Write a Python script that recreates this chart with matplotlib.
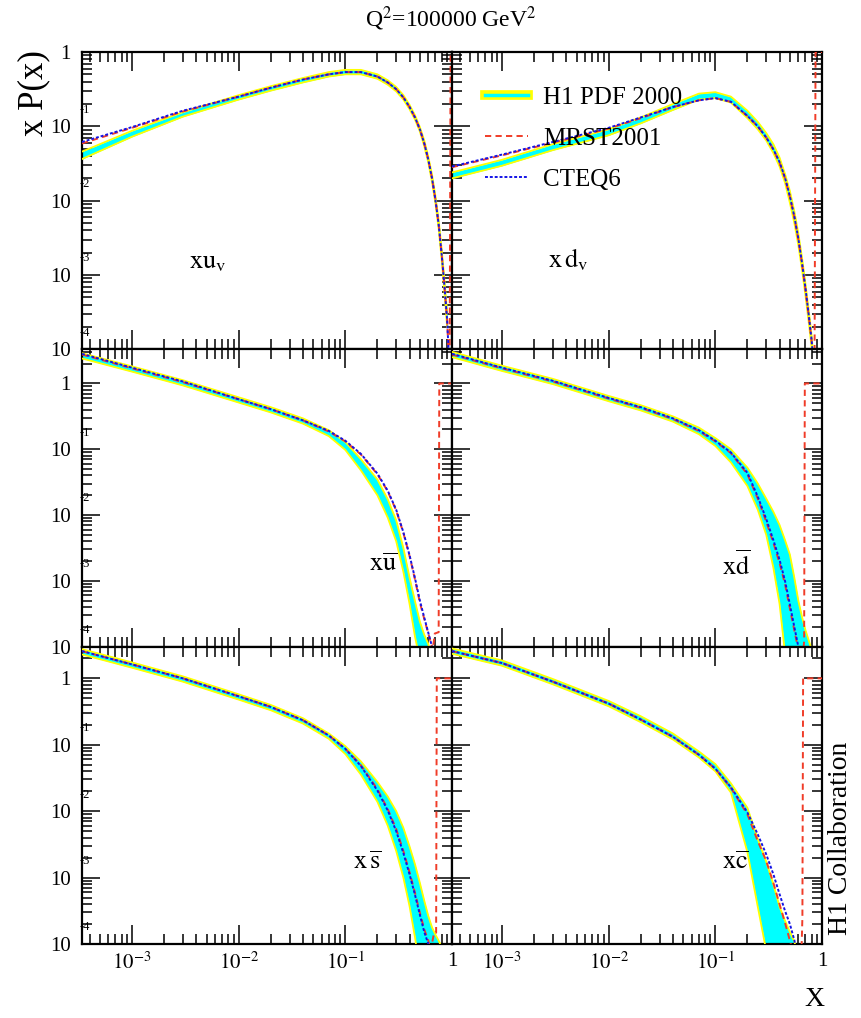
import numpy as np
import matplotlib
matplotlib.use('Agg')
import matplotlib.pyplot as plt
from matplotlib.lines import Line2D
from matplotlib.ticker import FixedLocator, LogLocator, NullFormatter
import matplotlib.transforms as mtransforms

plt.rcParams['font.family'] = ['Liberation Serif', 'DejaVu Serif']
plt.rcParams['mathtext.fontset'] = 'stix'

# сетка по x; значения ниже - показатели степени (log10 xP(x))
x_grid = [3.4e-4, 1e-3, 3e-3, 1e-2, 2e-2, 4e-2, 0.07, 0.1, 0.14, 0.2, 0.25, 0.3,
          0.35, 0.4, 0.45, 0.5, 0.55, 0.6, 0.65, 0.7, 0.75, 0.8, 0.85, 0.9]

# --- xu_v ---
uv_lo = [-1.44, -1.14, -0.87, -0.64, -0.52, -0.41, -0.33, -0.30, -0.30, -0.36, -0.44, -0.53,
         -0.64, -0.77, -0.91, -1.07, -1.27, -1.49, -1.75, -2.04, -2.38, -2.79, -3.23, -3.7]
uv_hi = [-1.34, -1.06, -0.81, -0.58, -0.46, -0.35, -0.27, -0.24, -0.24, -0.30, -0.38, -0.47,
         -0.58, -0.71, -0.85, -1.01, -1.19, -1.41, -1.65, -1.94, -2.26, -2.65, -3.07, -3.5]
uv_mrst_x = x_grid + [0.95, 0.97, 1.0]
uv_mrst = [-1.23, -1.02, -0.80, -0.60, -0.48, -0.37, -0.30, -0.27, -0.27, -0.33, -0.41, -0.50,
           -0.61, -0.74, -0.88, -1.04, -1.23, -1.45, -1.70, -1.99, -2.32, -2.72, -3.15, -3.6,
           -4.4, 0, 0]
uv_cteq_x = x_grid + [0.95]
uv_cteq = [-1.21, -1.01, -0.79, -0.60, -0.48, -0.37, -0.30, -0.27, -0.27, -0.33, -0.41, -0.50,
           -0.61, -0.74, -0.88, -1.04, -1.23, -1.45, -1.70, -1.99, -2.32, -2.72, -3.15, -3.6, -4.3]

# --- xd_v ---
dv_lo = [-1.70, -1.53, -1.32, -1.12, -0.96, -0.78, -0.64, -0.62, -0.68, -0.89, -1.04, -1.19,
         -1.36, -1.54, -1.76, -2.03, -2.30, -2.60, -2.93, -3.28, -3.63, -3.98, -4.5, -5.1]
dv_hi = [-1.62, -1.45, -1.24, -1.04, -0.88, -0.70, -0.56, -0.54, -0.60, -0.79, -0.94, -1.09,
         -1.24, -1.42, -1.64, -1.87, -2.14, -2.44, -2.77, -3.12, -3.47, -3.82, -4.3, -4.9]
dv_mrst_x = x_grid[:22] + [0.85, 0.87, 1.0]
dv_mrst = [-1.55, -1.39, -1.22, -1.03, -0.89, -0.74, -0.65, -0.62, -0.67, -0.86, -1.0, -1.15,
           -1.31, -1.49, -1.70, -1.95, -2.22, -2.52, -2.85, -3.2, -3.55, -3.9, -4.5, 0, 0]
dv_cteq_x = x_grid
dv_cteq = [-1.54, -1.38, -1.21, -1.02, -0.88, -0.74, -0.65, -0.62, -0.67, -0.86, -1.0, -1.15,
           -1.31, -1.48, -1.69, -1.94, -2.21, -2.51, -2.84, -3.18, -3.53, -3.88, -4.4, -5.0]

# --- x ubar ---
ub_lo = [0.38, 0.18, -0.03, -0.29, -0.44, -0.61, -0.80, -1.01, -1.32, -1.70, -2.04, -2.40,
         -2.86, -3.35, -3.85, -4.20, -4.6, -5.0, -5.5, -6.0]
ub_hi = [0.46, 0.26, 0.05, -0.21, -0.36, -0.53, -0.71, -0.89, -1.15, -1.46, -1.76, -2.08,
         -2.50, -2.95, -3.31, -3.62, -3.82, -3.96, -4.3, -4.8]
ub_mrst_x = x_grid[:19] + [0.66, 0.69, 0.75, 0.76, 1.0]
ub_mrst = [0.44, 0.23, 0.02, -0.24, -0.39, -0.56, -0.73, -0.88, -1.08, -1.38, -1.64, -1.93,
           -2.27, -2.62, -2.98, -3.33, -3.58, -3.80, -4.0, -4.05, -3.8, -3.78, 0, 0]
ub_cteq_x = x_grid[:20]
ub_cteq = [0.45, 0.24, 0.03, -0.24, -0.39, -0.56, -0.72, -0.87, -1.07, -1.37, -1.63, -1.92,
           -2.26, -2.61, -2.96, -3.30, -3.56, -3.79, -4.0, -4.25]

# --- x dbar ---
db_lo = [0.40, 0.19, -0.01, -0.27, -0.41, -0.58, -0.77, -0.95, -1.20, -1.56, -1.92, -2.30,
         -2.80, -3.35, -4.1, -5.0, -6.0, -7, -7, -7, -7, -7]
db_hi = [0.48, 0.27, 0.07, -0.19, -0.33, -0.50, -0.67, -0.83, -1.0, -1.28, -1.52, -1.75,
         -1.95, -2.15, -2.38, -2.6, -2.95, -3.3, -3.55, -3.75, -3.9, -4.05]
db_mrst_x = x_grid[:18] + [0.65, 0.68, 0.69, 1.0]
db_mrst = [0.44, 0.23, 0.03, -0.23, -0.37, -0.54, -0.72, -0.88, -1.06, -1.38, -1.75, -2.10,
           -2.42, -2.73, -3.05, -3.42, -3.75, -4.05, -4.4, -3.9, 0, 0]
db_cteq_x = x_grid[:19]
db_cteq = [0.45, 0.24, 0.04, -0.22, -0.36, -0.53, -0.71, -0.87, -1.05, -1.36, -1.72, -2.06,
           -2.38, -2.68, -3.0, -3.36, -3.70, -4.0, -4.35]

# --- x sbar ---
sb_lo = [0.36, 0.16, -0.05, -0.32, -0.48, -0.68, -0.91, -1.14, -1.45, -1.86, -2.22, -2.6,
         -3.0, -3.43, -3.9, -4.4, -5.0, -6, -7, -7, -7, -7]
sb_hi = [0.44, 0.24, 0.03, -0.24, -0.40, -0.60, -0.83, -1.02, -1.25, -1.56, -1.78, -2.0,
         -2.25, -2.53, -2.8, -3.08, -3.35, -3.58, -3.75, -3.86, -3.95, -4.05]
sb_mrst_x = x_grid[:18] + [0.63, 0.68, 0.71, 0.72, 1.0]
sb_mrst = [0.41, 0.21, 0.0, -0.27, -0.43, -0.63, -0.86, -1.06, -1.31, -1.67, -1.97, -2.27,
           -2.6, -2.92, -3.23, -3.53, -3.78, -3.95, -4.1, -3.83, -3.83, 0, 0]
sb_cteq_x = x_grid[:19]
sb_cteq = [0.41, 0.21, 0.0, -0.27, -0.43, -0.63, -0.86, -1.06, -1.32, -1.69, -1.99, -2.30,
           -2.63, -2.95, -3.26, -3.56, -3.82, -4.0, -4.2]

# --- x cbar ---
cb_lo = [0.37, 0.19, -0.09, -0.42, -0.66, -0.92, -1.19, -1.40, -1.72, -2.62, -3.44, -4.1,
         -5.0, -6, -7, -7, -7, -7]
cb_hi = [0.45, 0.27, -0.01, -0.34, -0.57, -0.83, -1.10, -1.29, -1.58, -1.95, -2.42, -2.76,
         -3.1, -3.44, -3.65, -3.82, -3.96, -4.2]
cb_mrst_x = x_grid[:17] + [0.64, 0.655, 0.665, 1.0]
cb_mrst = [0.41, 0.23, -0.05, -0.38, -0.62, -0.88, -1.15, -1.36, -1.65, -2.05, -2.45, -2.75,
           -3.08, -3.4, -3.68, -3.95, -4.2, -4.2, -3.6, 0, 0]
cb_cteq_x = x_grid[:18]
cb_cteq = [0.41, 0.23, -0.05, -0.38, -0.62, -0.88, -1.15, -1.36, -1.64, -2.02, -2.35, -2.65,
           -2.95, -3.25, -3.5, -3.7, -3.94, -4.3]

panels = [
    (uv_lo, uv_hi, uv_mrst_x, uv_mrst, uv_cteq_x, uv_cteq, r'$\mathrm{xu_v}$', (0.29, 0.29)),
    (dv_lo, dv_hi, dv_mrst_x, dv_mrst, dv_cteq_x, dv_cteq, r'$\mathrm{x\,d_v}$', (0.26, 0.30)),
    (ub_lo, ub_hi, ub_mrst_x, ub_mrst, ub_cteq_x, ub_cteq, r'$\mathrm{x\overline{u}}$', (0.775, 0.276)),
    (db_lo, db_hi, db_mrst_x, db_mrst, db_cteq_x, db_cteq, r'$\mathrm{x\overline{d}}$', (0.73, 0.276)),
    (sb_lo, sb_hi, sb_mrst_x, sb_mrst, sb_cteq_x, sb_cteq, r'$\mathrm{x\,\overline{s}}$', (0.733, 0.274)),
    (cb_lo, cb_hi, cb_mrst_x, cb_mrst, cb_cteq_x, cb_cteq, r'$\mathrm{x\overline{c}}$', (0.73, 0.274)),
]
ylims = [(1e-4, 1.0), (1e-4, 3.3), (1e-4, 3.0)]
x_min, x_max = 3.4e-4, 1.0

y_major = [1.0, 0.1, 0.01, 1e-3, 1e-4]
y_labels = ['1', '10', '10', '10', '10']
y_exps = ['-1', '-2', '-3', '-4']
x_major = [1e-3, 1e-2, 1e-1, 1.0]
x_labels = [r'$10^{-3}$', r'$10^{-2}$', r'$10^{-1}$', '1']

c_mrst = '#f03c28'
c_cteq = '#1414e6'

fig, axes = plt.subplots(3, 2, figsize=(8.62, 10.18), dpi=100)
plt.subplots_adjust(left=0.0951, right=0.9536, top=0.9489, bottom=0.0727, hspace=0, wspace=0)

for i, ax in enumerate(axes.flat):
    lo, hi, mx, my, cx, cy, name, pos = panels[i]
    row, col = divmod(i, 2)
    ax.set_xscale('log')
    ax.set_yscale('log')

    xb = x_grid[:len(lo)]
    ax.fill_between(xb, 10.0 ** np.array(lo), 10.0 ** np.array(hi), color='#00ffff', lw=0, zorder=2)
    ax.plot(xb, 10.0 ** np.array(lo), color='#ffff00', lw=1.3, zorder=3)
    ax.plot(xb, 10.0 ** np.array(hi), color='#ffff00', lw=1.3, zorder=3)
    ax.plot(mx, 10.0 ** np.array(my), color=c_mrst, lw=1.4, dashes=(3.2, 2.2), zorder=4)
    ax.plot(cx, 10.0 ** np.array(cy), color=c_cteq, lw=1.4, dashes=(1.5, 1.0), zorder=5)

    ax.set_xlim(x_min, x_max)
    ax.set_ylim(*ylims[row])

    ax.xaxis.set_major_locator(FixedLocator(x_major))
    ax.xaxis.set_minor_locator(LogLocator(base=10, subs=np.arange(2, 10)))
    ax.yaxis.set_major_locator(FixedLocator(y_major))
    ax.yaxis.set_minor_locator(LogLocator(base=10, subs=np.arange(2, 10)))
    ax.xaxis.set_minor_formatter(NullFormatter())
    ax.yaxis.set_minor_formatter(NullFormatter())

    ax.tick_params(which='both', direction='in', top=True, right=True, width=1.1, colors='black')
    ax.tick_params(which='major', axis='x', length=14, pad=6)
    ax.tick_params(which='minor', axis='x', length=7.5)
    ax.tick_params(which='major', axis='y', length=13, pad=8)
    ax.tick_params(which='minor', axis='y', length=7)
    for sp in ax.spines.values():
        sp.set_linewidth(1.6)

    if col == 0:
        ax.set_yticklabels(y_labels, fontsize=15)
        trans = mtransforms.blended_transform_factory(ax.transAxes, ax.transData)
        for v, e in zip(y_major[1:], y_exps):
            ax.annotate(e, xy=(0.008, v), xycoords=trans, xytext=(0, 12),
                        textcoords='offset points', ha='center', va='center',
                        fontsize=9, annotation_clip=False)
    else:
        ax.tick_params(labelleft=False)

    if row == 2:
        ax.set_xticklabels(x_labels, fontsize=15)
    else:
        ax.tick_params(labelbottom=False)

    ax.text(pos[0], pos[1], name, transform=ax.transAxes, fontsize=19,
            ha='left', va='center')

# легенда
h1 = (Line2D([], [], color='#ffff00', lw=7), Line2D([], [], color='#00ffff', lw=2.5))
hm = Line2D([], [], color=c_mrst, lw=1.4, dashes=(3.2, 2.2))
hc = Line2D([], [], color=c_cteq, lw=1.4, dashes=(1.5, 1.0))
axes[0, 1].legend([h1, hm, hc], ['H1 PDF 2000', 'MRST2001', 'CTEQ6'],
                  loc='upper left', bbox_to_anchor=(0.09, 0.885), frameon=False,
                  fontsize=18, handlelength=1.7, handletextpad=0.6,
                  labelspacing=0.75, borderpad=0, borderaxespad=0)

fig.text(0.523, 0.982, r'Q$^2$=100000 GeV$^2$', fontsize=17, ha='center', va='center')
fig.text(0.039, 0.909, 'x P(x)', fontsize=25, rotation=90, ha='center', va='center')
fig.text(0.945, 0.018, 'X', fontsize=20, ha='center', va='center')
fig.text(0.975, 0.177, 'H1 Collaboration', fontsize=20, rotation=90, ha='center', va='center')

plt.savefig('out.png', dpi=100)
